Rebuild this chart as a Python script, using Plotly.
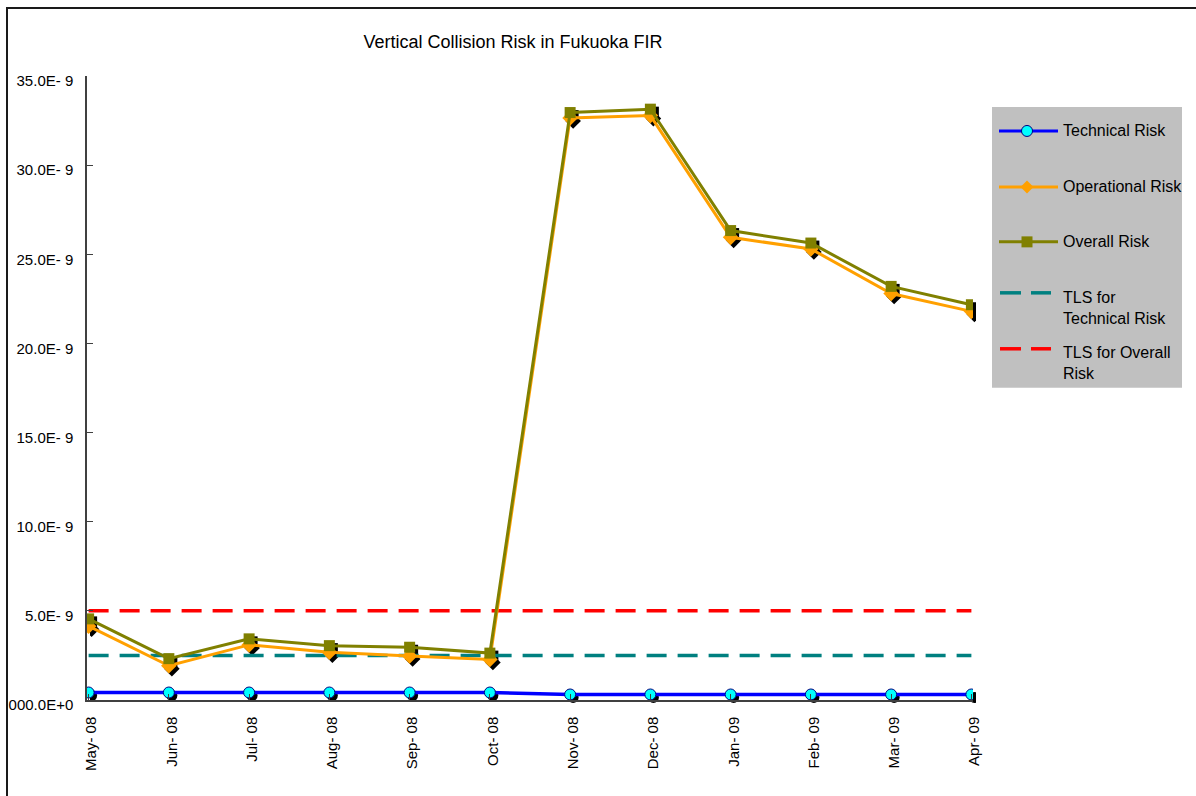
import plotly.graph_objects as go

# ---- data (risk values in units of 1E-9) ----
months = ["May- 08", "Jun- 08", "Jul- 08", "Aug- 08", "Sep- 08", "Oct- 08",
          "Nov- 08", "Dec- 08", "Jan- 09", "Feb- 09", "Mar- 09", "Apr- 09"]
technical_risk = [0.42, 0.42, 0.42, 0.42, 0.42, 0.42, 0.31, 0.31, 0.31, 0.31, 0.31, 0.31]
operational_risk = [4.14, 1.92, 3.09, 2.68, 2.47, 2.27, 32.65, 32.78, 25.95, 25.30, 22.80, 21.80]
overall_risk = [4.55, 2.32, 3.43, 3.05, 2.96, 2.63, 32.95, 33.14, 26.33, 25.63, 23.20, 22.17]
tls_technical = 2.5
tls_overall = 5.0
scale = 1e-9

y_tick_values = [0, 5, 10, 15, 20, 25, 30, 35]
y_tick_text = ["000.0E+0", "5.0E- 9", "10.0E- 9", "15.0E- 9", "20.0E- 9",
               "25.0E- 9", "30.0E- 9", "35.0E- 9"]

# ---- page geometry ----
W, H = 1196, 796
L, T, R, B = 87, 76, 220, 92.5          # figure margins (px)
SHADOW = 3                               # marker drop-shadow offset (px)
PW, PH = W - L - R, H - T - B

FONT = "Liberation Sans, Arial, sans-serif"
BLUE, CYAN, NAVY = "#0000FF", "#00FFFF", "#000080"
ORANGE, OLIVE = "#FFA000", "#808000"
TEAL, RED = "#008080", "#FF0000"
AXIS = "#404040"


def px_x(px):
    return (px - L) / PW


def px_y(py):
    return (H - B - py) / PH


fig = go.Figure()

ys = lambda v: [a * scale for a in v]

# drop shadows of the markers (drawn on an offset subplot beneath)
for vals, sym, size in [(technical_risk, "circle", 11),
                        (operational_risk, "diamond", 12),
                        (overall_risk, "square", 11)]:
    fig.add_trace(go.Scatter(x=months, y=ys(vals), mode="markers",
                             marker=dict(symbol=sym, size=size, color="black",
                                         line=dict(width=0)),
                             xaxis="x", yaxis="y", showlegend=False,
                             hoverinfo="skip"))

# target levels of safety
fig.add_trace(go.Scatter(x=[months[0], months[-1]], y=[tls_technical * scale] * 2,
                         mode="lines", line=dict(color=TEAL, width=3.5, dash="20px,11px"),
                         xaxis="x2", yaxis="y2", name="TLS for Technical Risk"))
fig.add_trace(go.Scatter(x=[months[0], months[-1]], y=[tls_overall * scale] * 2,
                         mode="lines", line=dict(color=RED, width=3.5, dash="20px,11px"),
                         xaxis="x2", yaxis="y2", name="TLS for Overall Risk"))

fig.add_trace(go.Scatter(x=months, y=ys(technical_risk), mode="lines+markers",
                         line=dict(color=BLUE, width=3.5),
                         marker=dict(symbol="circle", size=11, color=CYAN,
                                     line=dict(color=NAVY, width=1)),
                         xaxis="x2", yaxis="y2", name="Technical Risk"))
fig.add_trace(go.Scatter(x=months, y=ys(operational_risk), mode="lines+markers",
                         line=dict(color=ORANGE, width=3),
                         marker=dict(symbol="diamond", size=12, color=ORANGE,
                                     line=dict(width=0)),
                         xaxis="x2", yaxis="y2", name="Operational Risk"))
fig.add_trace(go.Scatter(x=months, y=ys(overall_risk), mode="lines+markers",
                         line=dict(color=OLIVE, width=3),
                         marker=dict(symbol="square", size=11, color=OLIVE,
                                     line=dict(width=0)),
                         xaxis="x2", yaxis="y2", name="Overall Risk"))

x_range = [-0.02, 11.02]
y_range = [0, 35 * scale]
dx = SHADOW / PW
dy = SHADOW / PH

hidden = dict(visible=False, showgrid=False, zeroline=False, fixedrange=True,
              automargin=False)

fig.update_layout(
    width=W, height=H,
    margin=dict(l=L, r=R, t=T, b=B, pad=0, autoexpand=False),
    paper_bgcolor="white", plot_bgcolor="rgba(0,0,0,0)",
    showlegend=False,
    font=dict(family=FONT, size=15, color="black"),
    title=dict(text="Vertical Collision Risk in Fukuoka FIR",
               font=dict(family=FONT, size=18, color="black"),
               xref="container", yref="container", automargin=False,
               x=513 / W, y=1 - 42 / H, xanchor="center", yanchor="middle"),
    xaxis=dict(hidden, type="category", categoryarray=months, range=x_range,
               domain=[dx, 1], anchor="y"),
    yaxis=dict(hidden, range=y_range, domain=[0, 1 - dy], anchor="x"),
    xaxis2=dict(type="category", categoryarray=months, range=x_range,
                domain=[0, 1 - dx], anchor="y2", automargin=False,
                showline=True, linecolor=AXIS, linewidth=1.5,
                ticks="inside", ticklen=6, tickcolor=AXIS, tickwidth=1,
                tickangle=-90, ticklabelstandoff=9, ticklabelshift=3,
                showgrid=False, zeroline=False,
                tickfont=dict(family=FONT, size=15, color="black")),
    yaxis2=dict(range=y_range, domain=[dy, 1], anchor="x2", automargin=False,
                tickvals=[v * scale for v in y_tick_values], ticktext=y_tick_text,
                showline=True, linecolor=AXIS, linewidth=1.5,
                ticks="inside", ticklen=6, tickcolor=AXIS, tickwidth=1,
                ticklabelstandoff=9, ticklabelshift=5,
                showgrid=False, zeroline=False,
                tickfont=dict(family=FONT, size=15, color="black")),
)

shapes = []
# outer frame of the chart
shapes.append(dict(type="rect", xref="paper", yref="paper",
                   x0=px_x(7), x1=px_x(W + 20), y0=px_y(8), y1=px_y(H + 20),
                   line=dict(color="#1a1a1a", width=2), fillcolor="rgba(0,0,0,0)"))

# legend panel
shapes.append(dict(type="rect", xref="paper", yref="paper",
                   x0=px_x(992), x1=px_x(1182), y0=px_y(107), y1=px_y(388),
                   line=dict(width=0), fillcolor="#C0C0C0", layer="below"))

legend_items = [
    ("Technical Risk", BLUE, "solid", "circle", 131, 131),
    ("Operational Risk", ORANGE, "solid", "diamond", 187, 187),
    ("Overall Risk", OLIVE, "solid", "square", 242, 242),
    ("TLS for<br>Technical Risk", TEAL, "dash", None, 293, 308.5),
    ("TLS for Overall<br>Risk", RED, "dash", None, 349, 363.5),
]
annotations = []
sx0, sx1, mx = 999, 1058, 1027
for text, color, style, marker, sy, ty in legend_items:
    if style == "solid":
        shapes.append(dict(type="line", xref="paper", yref="paper",
                           x0=px_x(sx0), x1=px_x(sx1), y0=px_y(sy), y1=px_y(sy),
                           line=dict(color=color, width=3)))
    else:
        for a, b in [(1000, 1021), (1031, 1051)]:
            shapes.append(dict(type="line", xref="paper", yref="paper",
                               x0=px_x(a), x1=px_x(b), y0=px_y(sy), y1=px_y(sy),
                               line=dict(color=color, width=3.5)))
    if marker == "circle":
        shapes.append(dict(type="circle", xref="paper", yref="paper",
                           x0=px_x(mx - 5.5), x1=px_x(mx + 5.5),
                           y0=px_y(sy - 5.5), y1=px_y(sy + 5.5),
                           fillcolor=CYAN, line=dict(color=NAVY, width=1)))
    elif marker == "diamond":
        r = 6.5
        path = "M {} {} L {} {} L {} {} L {} {} Z".format(
            px_x(mx), px_y(sy - r), px_x(mx + r), px_y(sy),
            px_x(mx), px_y(sy + r), px_x(mx - r), px_y(sy))
        shapes.append(dict(type="path", xref="paper", yref="paper", path=path,
                           fillcolor=ORANGE, line=dict(width=0)))
    elif marker == "square":
        shapes.append(dict(type="rect", xref="paper", yref="paper",
                           x0=px_x(mx - 5.5), x1=px_x(mx + 5.5),
                           y0=px_y(sy - 5.5), y1=px_y(sy + 5.5),
                           fillcolor=OLIVE, line=dict(width=0)))
    annotations.append(dict(text=text, xref="paper", yref="paper",
                            x=px_x(1061), y=px_y(ty), xanchor="left", yanchor="middle",
                            align="left", showarrow=False,
                            font=dict(family=FONT, size=16, color="black")))

fig.update_layout(shapes=shapes, annotations=annotations)

fig.write_html("out.html")
